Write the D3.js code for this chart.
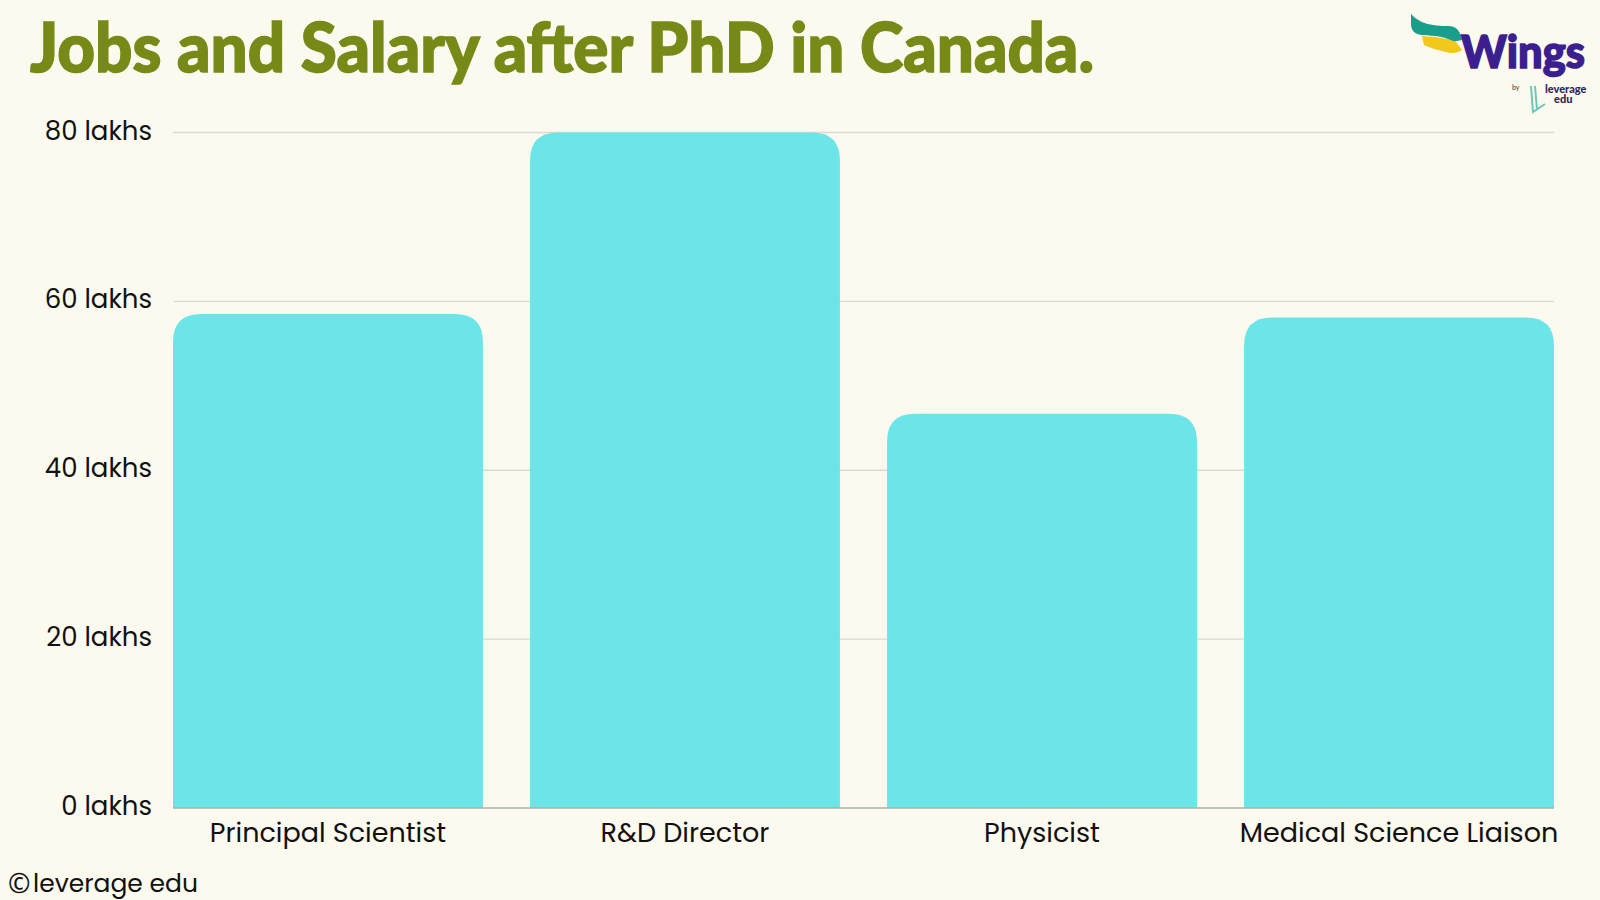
<!DOCTYPE html>
<html>
<head>
<meta charset="utf-8">
<script src="https://cdn.jsdelivr.net/npm/d3@7"></script>
<style>
  html, body { margin: 0; padding: 0; background: #fcf9ee; }
  svg { display: block; }
</style>
</head>
<body>
<svg id="chart" width="1600" height="900"></svg>
<script>
const categories = ["Principal Scientist", "R&D Director", "Physicist", "Medical Science Liaison"];
const salaries = [58.5, 80, 46.7, 58.1];
const yTicks = [0, 20, 40, 60, 80];
const yTickLabels = ["0 lakhs", "20 lakhs", "40 lakhs", "60 lakhs", "80 lakhs"];
const titleText = "Jobs and Salary after PhD in Canada.";

const svg = d3.select("#chart");
const W = 1600, H = 900;
svg.append("rect").attr("width", W).attr("height", H).attr("fill", "#fcf9ee");

const margin = { left: 173, right: 46, top: 132.5, bottom: 92 };
const x = d3.scaleBand().domain(categories).range([margin.left, W - margin.right]).paddingInner(0.132).paddingOuter(0);
const y = d3.scaleLinear().domain([0, 80]).range([H - margin.bottom, margin.top]);

// gridlines
svg.append("g").selectAll("line").data(yTicks.filter(d => d > 0)).join("line")
  .attr("x1", margin.left).attr("x2", W - margin.right)
  .attr("y1", d => y(d)).attr("y2", d => y(d))
  .attr("stroke", "#dcd9cf").attr("stroke-width", 1.3);

// bars with rounded top corners
const r = 28;
function barPath(d, i) {
  const x0 = x(categories[i]), x1 = x0 + x.bandwidth();
  const yt = y(d), yb = y(0);
  return `M${x0},${yb} L${x0},${yt + r} Q${x0},${yt} ${x0 + r},${yt} L${x1 - r},${yt} Q${x1},${yt} ${x1},${yt + r} L${x1},${yb} Z`;
}
svg.append("g").selectAll("path").data(salaries).join("path")
  .attr("d", (d, i) => barPath(d, i))
  .attr("fill", "#6ce5e8");

// baseline
svg.append("line").attr("x1", margin.left).attr("x2", W - margin.right)
  .attr("y1", y(0)).attr("y2", y(0)).attr("stroke", "#a9b0ad").attr("stroke-width", 1.5);

// y axis labels
const yAxis = d3.axisLeft(y).tickValues(yTicks).tickFormat((d, i) => yTickLabels[i]).tickSize(0).tickPadding(21);
const yg = svg.append("g").attr("transform", `translate(${margin.left},0)`).call(yAxis);
yg.select(".domain").remove();
yg.selectAll("text").attr("font-family", "Poppins, 'Noto Sans', sans-serif").attr("font-size", 26)
  .attr("fill", "#111").attr("dy", "0.25em");

// x axis labels
const xAxis = d3.axisBottom(x).tickSize(0).tickPadding(15);
const xg = svg.append("g").attr("transform", `translate(0,${y(0)})`).call(xAxis);
xg.select(".domain").remove();
xg.selectAll("text").attr("font-family", "Poppins, 'Noto Sans', sans-serif").attr("font-size", 27)
  .attr("fill", "#111").attr("dy", "0.72em");

// title
svg.append("text").attr("x", 30).attr("y", 72).text(titleText)
  .attr("font-family", "Lato, 'Open Sans', sans-serif").attr("font-weight", 900).attr("font-size", 68)
  .attr("fill", "#778a17").attr("textLength", 1064).attr("lengthAdjust", "spacingAndGlyphs")
  .attr("stroke", "#778a17").attr("stroke-width", 1.5);

// copyright
svg.append("text").attr("x", 8).attr("y", 893).text("\u00A9")
  .attr("font-family", "'Noto Sans', sans-serif").attr("font-size", 27).attr("fill", "#111");
svg.append("text").attr("x", 33).attr("y", 892).text("leverage edu")
  .attr("font-family", "Poppins, 'Noto Sans', sans-serif").attr("font-size", 25).attr("fill", "#111");

// logo
const logo = svg.append("g");
logo.append("path").attr("d", "M1411,14 C1420,24 1432,26 1448,26 C1456,26 1460,30 1462,40 L1452,42 C1446,36 1436,36 1422,35 C1414,34 1411,30 1411,24 Z").attr("fill", "#1a9e8c");
logo.append("path").attr("d", "M1422,36 C1436,37 1448,38 1456,42 L1462,50 C1458,53 1452,54 1446,52 C1438,50 1430,48 1424,45 Z").attr("fill", "#f2c81c");
logo.append("text").attr("x", 1461).attr("y", 68).text("Wings")
  .attr("font-family", "Lato, sans-serif").attr("font-weight", 900).attr("font-size", 46)
  .attr("fill", "#3b1f8f").attr("stroke", "#3b1f8f").attr("stroke-width", 1.5)
  .attr("textLength", 124).attr("lengthAdjust", "spacingAndGlyphs");
logo.append("text").attr("x", 1512).attr("y", 90).text("by")
  .attr("font-family", "Lato, sans-serif").attr("font-size", 7).attr("fill", "#333");
logo.append("path").attr("d", "M1531,86 L1533,112 L1545,104 M1535,86 L1537,110").attr("fill", "none").attr("stroke", "#6cc7b8").attr("stroke-width", 2);
logo.append("text").attr("x", 1545).attr("y", 93).text("leverage")
  .attr("font-family", "Lato, sans-serif").attr("font-weight", 900).attr("font-size", 11).attr("fill", "#2b2a5a");
logo.append("text").attr("x", 1554).attr("y", 103).text("edu")
  .attr("font-family", "Lato, sans-serif").attr("font-weight", 900).attr("font-size", 11).attr("fill", "#2b2a5a");
</script>
</body>
</html>
